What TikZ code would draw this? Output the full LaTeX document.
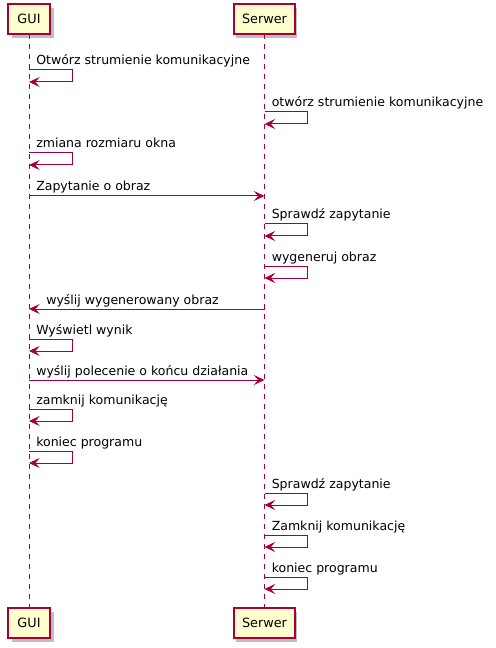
\documentclass[tikz,border=0pt]{standalone}
\usepackage{fontspec}
\setmainfont{DejaVu Sans}
\usetikzlibrary{arrows.meta}
\definecolor{umlred}{HTML}{A80036}
\definecolor{umlfill}{HTML}{FEFECE}
\tikzset{
  every picture/.style={x=0.75pt,y=-0.75pt},
  part/.style={draw=umlred,fill=umlfill,line width=1.1pt,minimum height=22.5pt,inner sep=0pt,font=\fontsize{9.6}{11}\selectfont,anchor=center},
  life/.style={draw=umlred,line width=0.75pt,dash pattern=on 3.75pt off 3.75pt},
  msg/.style={draw=umlred,line width=0.75pt,-{Stealth[length=8pt,width=7.5pt,inset=3.2pt]}},
  lbl/.style={font=\fontsize{9.4}{11}\selectfont,anchor=base west,inner sep=0pt,text=black}
}
\begin{document}
\begin{tikzpicture}
\useasboundingbox (0,0) rectangle (495,648);
% shadows
\fill[black!25] (12,8) rectangle (54,38);
\fill[black!25] (236,8) rectangle (297,38);
\fill[black!25] (12,612) rectangle (54,642);
\fill[black!25] (236,612) rectangle (297,642);
% lifelines
\coordinate (gt) at (29,34);
\coordinate (gb) at (29,608);
\coordinate (st) at (264.5,34);
\coordinate (sb) at (264.5,608);
\draw[life] (gt) -- (gb);
\draw[life] (st) -- (sb);
% participants
\node[part,minimum width=31.5pt] (gui) at (29,19) {GUI};
\node[part,minimum width=45.75pt] (ser) at (264.5,19) {Serwer};
\node[part,minimum width=31.5pt] (gui2) at (29,623) {GUI};
\node[part,minimum width=45.75pt] (ser2) at (264.5,623) {Serwer};
% self messages GUI
\foreach \t/\y [count=\i] in {{Otwórz strumienie komunikacyjne}/70,{zmiana rozmiaru okna}/153,{Wyświetl wynik}/339,{zamknij komunikację}/409,{koniec programu}/451}{
  \coordinate (ga\i) at (29,\y);
  \coordinate (gb\i) at (29,\y+12);
  \draw[msg] (ga\i) -- ++(43,0) |- (gb\i);
  \node[lbl] (gl\i) at (36,\y-5) {\t};
}
% self messages Serwer
\foreach \t/\y [count=\i] in {{otwórz strumienie komunikacyjne}/112,{Sprawdź zapytanie}/224,{wygeneruj obraz}/266,{Sprawdź zapytanie}/493,{Zamknij komunikację}/535,{koniec programu}/577}{
  \coordinate (sa\i) at (264.5,\y);
  \coordinate (sc\i) at (264.5,\y+12);
  \draw[msg] (sa\i) -- ++(43,0) |- (sc\i);
  \node[lbl] (sl\i) at (271.5,\y-5) {\t};
}
% messages between
\coordinate (m1a) at (29,196); \coordinate (m1b) at (264.5,196);
\draw[msg] (m1a) -- (m1b);
\node[lbl] (ml1) at (36,191) {Zapytanie o obraz};
\coordinate (m2a) at (264.5,309); \coordinate (m2b) at (29,309);
\draw[msg] (m2a) -- (m2b);
\node[lbl] (ml2) at (46,304) {wyślij wygenerowany obraz};
\coordinate (m3a) at (29,380); \coordinate (m3b) at (264.5,380);
\draw[msg] (m3a) -- (m3b);
\node[lbl] (ml3) at (36,375) {wyślij polecenie o końcu działania};
\end{tikzpicture}
\end{document}
